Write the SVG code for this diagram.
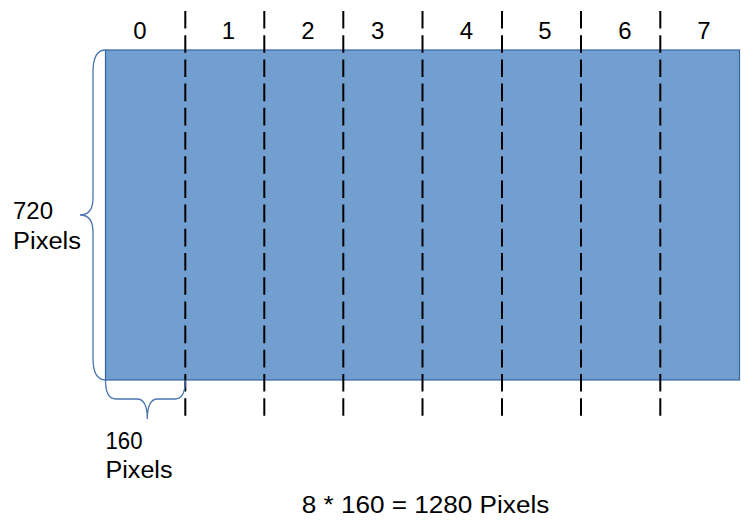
<svg xmlns="http://www.w3.org/2000/svg" width="756" height="531" viewBox="0 0 756 531">
  <style>
    .t { font-family: "Liberation Sans", Arial, sans-serif; font-size: 23px; fill: #000; }
    .c { font-size: 24px; text-anchor: middle; }
    .div { stroke: #000; stroke-width: 2; stroke-dasharray: 17.6 6.6; fill: none; }
    .brace { stroke: #4a74b2; stroke-width: 1.3; fill: none; }
  </style>
  <rect width="756" height="531" fill="#fff"/>
  <g id="frame">
    <rect x="105.5" y="50" width="634" height="330" fill="#729fcf" stroke="#3465a4" stroke-width="1.2"/>
  </g>
  <g id="dividers">
    <line class="div" x1="185.3" y1="11" x2="185.3" y2="416"/>
    <line class="div" x1="264.3" y1="11" x2="264.3" y2="416"/>
    <line class="div" x1="343.3" y1="11" x2="343.3" y2="416"/>
    <line class="div" x1="422.5" y1="11" x2="422.5" y2="416"/>
    <line class="div" x1="502" y1="11" x2="502" y2="416"/>
    <line class="div" x1="581" y1="11" x2="581" y2="416"/>
    <line class="div" x1="660.3" y1="11" x2="660.3" y2="416"/>
  </g>
  <g id="column-labels">
    <text class="t c" x="140" y="39">0</text>
    <text class="t c" x="228.5" y="39">1</text>
    <text class="t c" x="308" y="39">2</text>
    <text class="t c" x="377.7" y="39">3</text>
    <text class="t c" x="466.5" y="39">4</text>
    <text class="t c" x="545" y="39">5</text>
    <text class="t c" x="625" y="39">6</text>
    <text class="t c" x="704" y="39">7</text>
  </g>
  <g id="height-brace">
    <path class="brace" d="M105.5,50 Q93,50 93,72 L93,198 Q93,215 80,215 Q93,215 93,232 L93,358 Q93,380 105.5,380"/>
    <text class="t" x="13" y="219" textLength="40" lengthAdjust="spacingAndGlyphs">720</text>
    <text class="t" x="13" y="249" textLength="68" lengthAdjust="spacingAndGlyphs">Pixels</text>
  </g>
  <g id="width-brace">
    <path class="brace" d="M105.5,380 Q105.5,399 116,399 L137,399 Q147.3,399 147.3,419 Q147.3,399 157.6,399 L175,399 Q185.3,399 185.3,380"/>
    <text class="t" x="105.5" y="448.5" textLength="37" lengthAdjust="spacingAndGlyphs">160</text>
    <text class="t" x="105.5" y="477.5" textLength="67" lengthAdjust="spacingAndGlyphs">Pixels</text>
  </g>
  <g id="total">
    <text class="t" x="301.7" y="513.3" textLength="247.6" lengthAdjust="spacingAndGlyphs">8 * 160 = 1280 Pixels</text>
  </g>
</svg>
